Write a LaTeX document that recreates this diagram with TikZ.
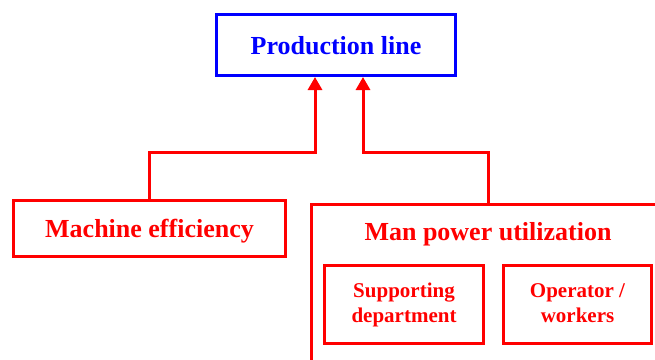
\documentclass[tikz,border=0pt]{standalone}
\usepackage{fontspec}
\setmainfont{Liberation Serif}
\usetikzlibrary{arrows.meta}
\begin{document}
\begin{tikzpicture}[x=1pt,y=-1pt,
  boxr/.style={draw=red,line width=3pt,rectangle,inner sep=0pt,text=red,font=\bfseries\fontsize{26}{30}\selectfont,align=center,text height=18pt,text depth=0pt},
  boxs/.style={draw=red,line width=3pt,rectangle,inner sep=0pt,text=red,font=\bfseries\fontsize{21}{25}\selectfont,align=center},
  conn/.style={draw=red,line width=3pt,-{Triangle[width=14pt,length=13pt]}},
]
\useasboundingbox (0,0) rectangle (655,359);
\clip (0,0) rectangle (655,359);
\node[draw=blue,line width=3pt,rectangle,inner sep=0pt,text=blue,font=\bfseries\fontsize{26}{30}\selectfont,
  text height=18pt,text depth=0pt,minimum width=239pt,minimum height=61pt] (prod) at (336,45) {Production line};
\node[boxr,minimum width=272pt,minimum height=56pt] (mach) at (149.5,228.5) {Machine efficiency};
\node[draw=red,line width=3pt,rectangle,inner sep=0pt,minimum width=353pt,minimum height=165pt] (man) at (488,287) {};
\node[text=red,font=\bfseries\fontsize{26}{30}\selectfont,inner sep=0pt,anchor=base] (mantitle) at (488,240) {Man power utilization};
\node[boxs,minimum width=159pt,minimum height=78pt] (sup) at (404,304.5) {\strut Supporting\\\strut department};
\node[boxs,minimum width=148pt,minimum height=78pt] (op) at (577.5,304.5) {\strut Operator /\\\strut workers};
\coordinate (h1) at (315,152);
\coordinate (h2) at (363,152);
\draw[conn] (mach.north) |- (h1) -- (h1 |- prod.south);
\draw[conn] (man.north) |- (h2) -- (h2 |- prod.south);
\end{tikzpicture}
\end{document}
